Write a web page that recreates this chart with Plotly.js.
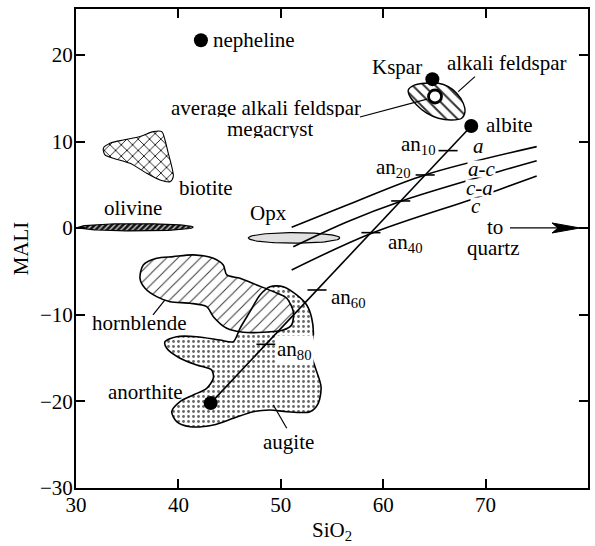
<!DOCTYPE html>
<html>
<head>
<meta charset="utf-8">
<script src="https://cdn.plot.ly/plotly-3.0.1.min.js"></script>
<style>html,body{margin:0;padding:0;background:#fff;}#chart{width:595px;height:546px;}</style>
</head>
<body>
<div id="chart"></div>
<script>
// ---------------- data ----------------
const hornX = [36.25,36.57,37.88,39.50,41.46,43.41,44.38,44.72,46.02,47.65,49.27,50.58,51.22,51.06,50.24,48.29,46.34,44.72,43.41,42.76,41.13,39.18,37.88,36.74];
const hornY = [-5.79,-4.25,-3.48,-3.29,-3.09,-3.48,-4.25,-5.40,-5.79,-6.56,-7.33,-8.09,-9.64,-11.18,-11.76,-12.02,-12.02,-11.56,-10.22,-9.06,-8.67,-8.49,-7.91,-6.94];

const augX = [38.69,39.83,41.79,44.06,45.36,46.02,46.99,47.97,48.95,50.24,51.55,52.53,53.02,53.17,52.85,53.34,53.93,53.66,52.85,50.58,48.95,47.31,45.36,43.41,41.13,39.83,39.35,40.16,41.46,42.76,43.41,43.25,41.79,40.16,38.86];
const augY = [-13.11,-12.53,-12.53,-12.91,-13.11,-11.56,-9.64,-7.71,-6.76,-6.76,-7.71,-8.87,-10.40,-12.45,-14.06,-15.99,-18.30,-20.22,-21.19,-21.19,-20.99,-21.19,-21.95,-22.72,-22.92,-22.34,-21.19,-20.03,-19.26,-18.49,-17.33,-16.37,-15.80,-15.02,-13.87];

const bioX = [32.67,33.32,34.62,36.25,37.55,38.37,38.69,39.01,39.35,39.50,39.18,38.20,36.90,35.27,33.64,32.83];
const bioY = [9.23,9.80,10.18,10.57,11.14,11.14,10.18,8.65,7.10,5.95,5.37,5.57,6.34,7.49,8.07,8.45];

const afsX = [62.45,63.11,64.08,65.38,66.36,67.18,67.82,67.99,67.67,66.69,65.38,64.25,63.27,62.62];
const afsY = [15.96,16.54,16.73,16.73,16.34,15.58,14.42,13.45,12.69,12.49,12.69,13.27,14.23,15.18];

// ellipses: olivine, Opx
const ellNames = ['olivine', 'Opx'];
const ellCx = [35.84, 51.30];
const ellCy = [0.10, -1.13];
const ellRx = [5.62, 4.47];
const ellRy = [0.42, 0.61];

// boundary curves (a / a-c, a-c / c-a, c-a / c)
const curveAX = [51.06, 56.92, 64.08, 74.99];
const curveAY = [0.10, 2.88, 6.14, 9.41];
const curveBX = [51.22, 56.50, 61.81, 71.24, 74.99];
const curveBY = [-2.14, 0.75, 3.14, 6.52, 7.79];
const curveCX = [51.06, 58.87, 68.48, 71.24, 74.99];
const curveCY = [-4.83, -0.59, 3.26, 4.41, 6.03];

// end-member points
const ptNames = ['nepheline', 'Kspar', 'albite', 'anorthite'];
const ptX = [42.2, 64.8, 68.6, 43.15];
const ptY = [21.7, 17.2, 11.8, -20.2];
const megX = [65.06];
const megY = [15.2];

// plagioclase composition ticks along albite-anorthite join
const anComp = [10, 20, 30, 40, 60, 80];
const anTickY = [8.95, 6.14, 3.14, -0.52, -7.14, -13.41];

// ---------------- build ----------------
const FONT = 'Liberation Serif';
const FS = 21;
function closed(a) { return a.concat([a[0]]); }

const traces = [];
// augite fill (below hornblende)
traces.push({x: closed(augX), y: closed(augY), mode: 'lines', fill: 'toself',
  line: {width: 0, color: 'rgba(0,0,0,0)', shape: 'spline', smoothing: 0.8},
  fillpattern: {shape: '.', size: 5, solidity: 0.25, fgcolor: '#666', bgcolor: 'white', fillmode: 'replace'},
  fillcolor: 'white', hoverinfo: 'skip'});
// hornblende
traces.push({x: closed(hornX), y: closed(hornY), mode: 'lines', fill: 'toself',
  line: {width: 1.6, color: 'black', shape: 'spline', smoothing: 0.8},
  fillpattern: {shape: '/', size: 8, solidity: 0.12, fgcolor: '#333', bgcolor: 'white', fillmode: 'replace'},
  fillcolor: 'white', hoverinfo: 'skip'});
// augite outline
traces.push({x: closed(augX), y: closed(augY), mode: 'lines',
  line: {width: 1.6, color: 'black', shape: 'spline', smoothing: 0.8}, hoverinfo: 'skip'});
// biotite
traces.push({x: closed(bioX), y: closed(bioY), mode: 'lines', fill: 'toself',
  line: {width: 1.1, color: 'black', shape: 'spline', smoothing: 0.8},
  fillpattern: {shape: 'x', size: 8, solidity: 0.2, fgcolor: '#000', bgcolor: 'white', fillmode: 'replace'},
  fillcolor: 'white', hoverinfo: 'skip'});
// alkali feldspar
traces.push({x: closed(afsX), y: closed(afsY), mode: 'lines', fill: 'toself',
  line: {width: 1.4, color: 'black', shape: 'spline', smoothing: 0.8},
  fillpattern: {shape: '\\', size: 8, solidity: 0.25, fgcolor: '#333', bgcolor: 'white', fillmode: 'replace'},
  fillcolor: 'white', hoverinfo: 'skip'});
// ellipses
ellNames.forEach((nm, i) => {
  const ex = [], ey = [];
  for (let k = 0; k <= 90; k++) {
    const t = 2 * Math.PI * k / 90;
    ex.push(ellCx[i] + ellRx[i] * Math.cos(t));
    ey.push(ellCy[i] + ellRy[i] * Math.sin(t));
  }
  const tr = {x: ex, y: ey, mode: 'lines', fill: 'toself', name: nm,
    line: {width: 1.2, color: 'black'}, hoverinfo: 'skip'};
  if (nm === 'olivine') {
    tr.fillpattern = {shape: '/', size: 4, solidity: 0.35, fgcolor: '#cfcfcf', bgcolor: '#111', fillmode: 'replace'};
    tr.fillcolor = '#111';
  } else {
    tr.fillcolor = '#e0e0e0';
  }
  traces.push(tr);
});
// boundary curves
[[curveAX, curveAY], [curveBX, curveBY], [curveCX, curveCY]].forEach(c => {
  traces.push({x: c[0], y: c[1], mode: 'lines', line: {width: 1.6, color: 'black', shape: 'spline', smoothing: 1}, hoverinfo: 'skip'});
});
// albite - anorthite join
const iAb = ptNames.indexOf('albite'), iAn = ptNames.indexOf('anorthite');
traces.push({x: [ptX[iAb], ptX[iAn]], y: [ptY[iAb], ptY[iAn]], mode: 'lines',
  line: {width: 1.6, color: 'black'}, hoverinfo: 'skip'});
// an ticks
const half = 0.93;
const tx = [], ty = [];
anTickY.forEach(yv => {
  const xc = ptX[iAn] + (yv - ptY[iAn]) * (ptX[iAb] - ptX[iAn]) / (ptY[iAb] - ptY[iAn]);
  tx.push(xc - half, xc + half, null);
  ty.push(yv, yv, null);
});
traces.push({x: tx, y: ty, mode: 'lines', line: {width: 1.6, color: 'black'}, hoverinfo: 'skip'});
// points
traces.push({x: ptX, y: ptY, text: ptNames, mode: 'markers',
  marker: {size: 14, color: 'black'}, hoverinfo: 'text'});
traces.push({x: megX, y: megY, mode: 'markers',
  marker: {size: 13, color: 'white', line: {width: 2.8, color: 'black'}}, hoverinfo: 'skip'});

function lab(text, x, y, extra) {
  return Object.assign({text: text, x: x, y: y, xref: 'x', yref: 'y', showarrow: false,
    xanchor: 'center', yanchor: 'middle', font: {family: FONT, size: FS, color: 'black'}}, extra || {});
}
const wb = {bgcolor: 'white', borderpad: 0, height: 16};
const annotations = [
  lab('nepheline', 47.43, 21.73),
  lab('Kspar', 61.32, 18.65),
  lab('alkali feldspar', 72.06, 19.04),
  lab('average alkali feldspar', 48.54, 13.88, {height: 19, borderpad: 0}),
  lab('megacryst', 48.95, 11.54, {height: 19, borderpad: 0}),
  lab('albite', 72.30, 11.92),
  lab('an<sub>10</sub>', 63.40, 9.6),
  lab('<i>a</i>', 69.26, 9.46, wb),
  lab('an<sub>20</sub>', 60.96, 6.9),
  lab('<i>a-c</i>', 69.60, 6.85, wb),
  lab('<i>c-a</i>', 69.36, 4.61, wb),
  lab('<i>c</i>', 69.06, 2.60, wb),
  lab('to', 70.92, 0.17),
  lab('quartz', 70.77, -2.32),
  lab('an<sub>40</sub>', 62.13, -1.76),
  lab('Opx', 48.80, 1.72),
  lab('biotite', 42.74, 4.61),
  lab('olivine', 35.57, 2.30),
  lab('an<sub>60</sub>', 56.61, -8.1),
  lab('hornblende', 36.20, -10.98),
  lab('an<sub>80</sub>', 51.29, -14.05, {bgcolor: 'white'}),
  lab('anorthite', 36.74, -18.88),
  lab('augite', 50.80, -24.65)
];

function seg(x0, y0, x1, y1) {
  return {type: 'line', xref: 'x', yref: 'y', x0: x0, y0: y0, x1: x1, y1: y1, line: {color: 'black', width: 1.2}};
}
const shapes = [
  seg(57.73, 12.83, 64.28, 14.90),
  seg(68.96, 17.49, 67.33, 15.76),
  seg(37.52, -10.01, 38.69, -8.28),
  seg(49.27, -20.42, 50.58, -23.11),
  seg(72.38, 0.02, 77.5, 0.02),
  {type: 'path', xref: 'x', yref: 'y', xsizemode: 'pixel', ysizemode: 'pixel', xanchor: 79.22, yanchor: 0.02,
   path: 'M0,0 L-28,5 L-22,0 L-28,-5 Z', fillcolor: 'black', line: {color: 'black', width: 1}}
];

const axisCommon = {ticks: 'inside', ticklen: 9, tickwidth: 2, tickcolor: 'black', showline: true, linewidth: 2,
  linecolor: 'black', mirror: 'ticks', showgrid: false, zeroline: false,
  tickfont: {family: FONT, size: 21, color: 'black'}};

const layout = {
  width: 595, height: 546, margin: {l: 76, r: 7, t: 9, b: 58},
  paper_bgcolor: 'white', plot_bgcolor: 'white', showlegend: false,
  font: {family: FONT},
  xaxis: Object.assign({}, axisCommon, {range: [30, 80], tickvals: [30, 40, 50, 60, 70, 80], ticklabelstandoff: -3,
    title: {text: 'SiO<sub>2</sub>', font: {family: FONT, size: 21, color: 'black'}, standoff: 6}}),
  yaxis: Object.assign({}, axisCommon, {range: [-30, 25.3], tickvals: [-30, -20, -10, 0, 10, 20], ticklabelstandoff: -3,
    title: {text: 'MALI', font: {family: FONT, size: 21, color: 'black'}, standoff: 6}}),
  annotations: annotations,
  shapes: shapes
};

Plotly.newPlot('chart', traces, layout, {staticPlot: true, displayModeBar: false});
</script>
</body>
</html>
